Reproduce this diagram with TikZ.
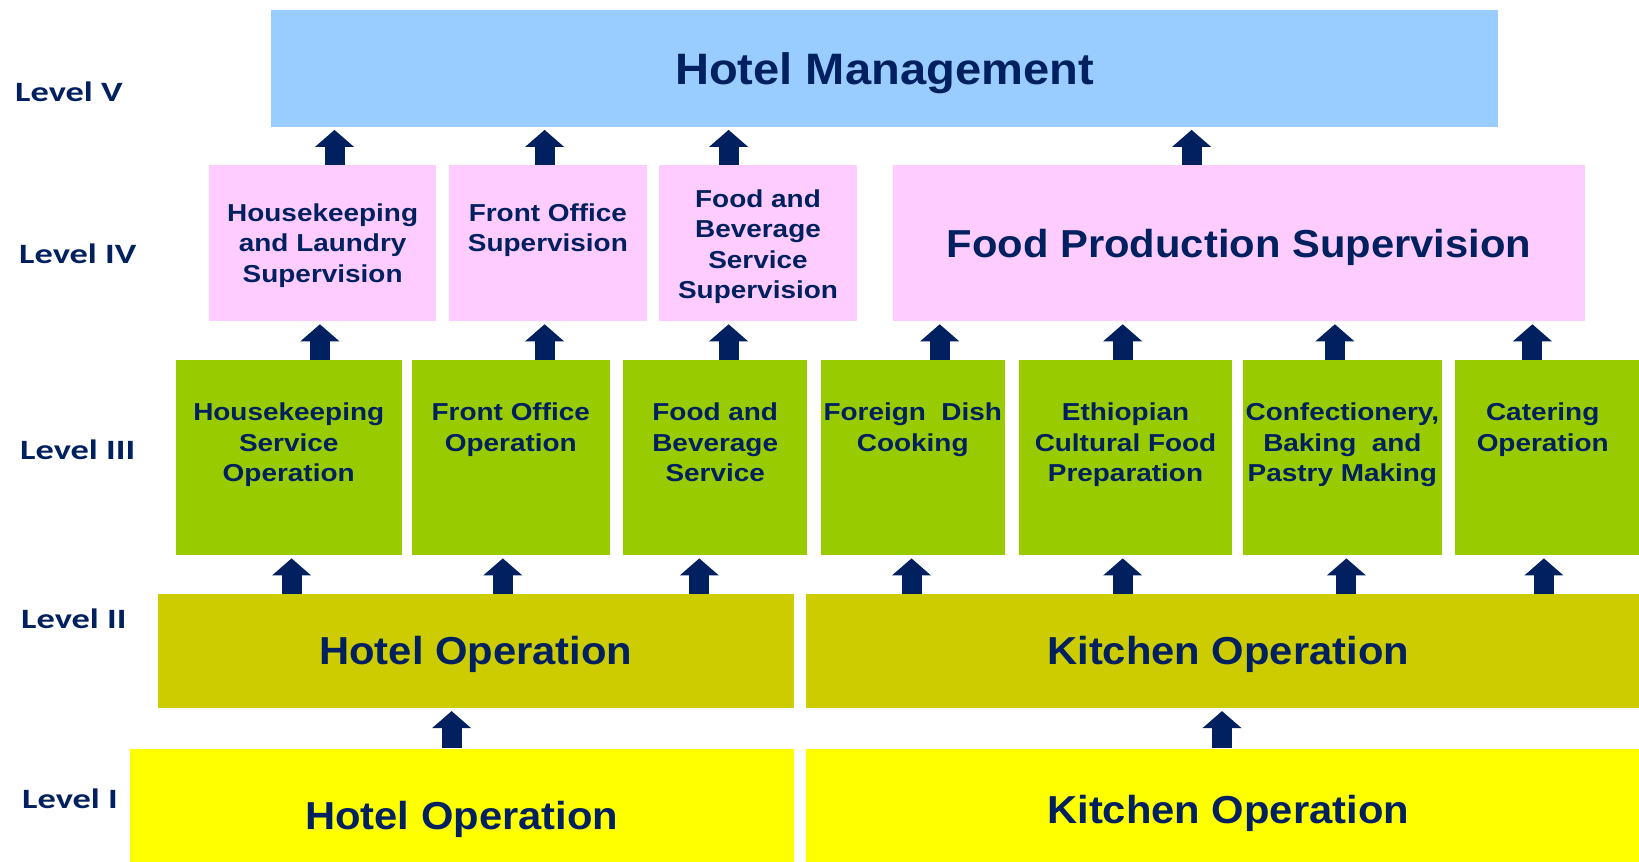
\documentclass[tikz,border=0pt]{standalone}
\usepackage{fontspec}
\setmainfont{Liberation Sans}
\newfontfamily\bigboxfont{Liberation Sans}[FakeStretch=1.07]
\newfontfamily\cellfont{Liberation Sans}[FakeStretch=1.14]
\newfontfamily\levelfont{Carlito}[FakeStretch=1.3]
\usetikzlibrary{arrows.meta}

\definecolor{navy}{RGB}{0,32,96}
\definecolor{mgmtblue}{RGB}{153,204,255}
\definecolor{suppink}{RGB}{255,204,255}
\definecolor{opgreen}{RGB}{153,204,0}
\definecolor{opolive}{RGB}{204,204,0}
\definecolor{baseyellow}{RGB}{255,255,0}

\tikzset{
  box/.style={draw=none, inner sep=0pt, anchor=north west, text=navy},
  bigtext/.style={text height=31.7pt, text depth=0pt,
    font=\bigboxfont\bfseries\fontsize{44}{50}\selectfont},
  midtext/.style={text height=28pt, text depth=0pt,
    font=\bigboxfont\bfseries\fontsize{39}{45}\selectfont},
  celltext/.style={text=navy, inner sep=0pt, align=center,
    font=\cellfont\bfseries\fontsize{24.5}{30.5}\selectfont},
  lvl/.style={anchor=west, inner sep=0pt, text=navy,
    font=\levelfont\bfseries\fontsize{28}{32}\selectfont},
  up/.style={draw=navy, line width=20pt, shorten >=3pt,
    -{Triangle[width=39pt,length=17pt,line width=0pt]}},
}

\begin{document}
\begin{tikzpicture}[x=1pt,y=-1pt]
\useasboundingbox (0,0) rectangle (1639,862);
\fill[white] (0,0) rectangle (1639,862);
\clip (0,0) rectangle (1639,862);

% Level V
\node[box, bigtext, fill=mgmtblue, minimum width=1227.2pt, minimum height=117.1pt]
  (hm) at (270.7,9.4) {Hotel Management};

% Level IV
\node[box, fill=suppink, minimum width=226.9pt, minimum height=155.7pt] (hl) at (209,165.2) {};
\node[box, fill=suppink, minimum width=198.6pt, minimum height=155.7pt] (fos) at (448.4,165.2) {};
\node[box, fill=suppink, minimum width=198.6pt, minimum height=155.7pt] (fbs) at (658.5,165.2) {};
\node[box, midtext, fill=suppink, minimum width=692pt, minimum height=155.7pt]
  (fps) at (892.7,165.2) {Food Production Supervision};

\node[celltext, anchor=north] (hlt) at ([yshift=-38pt]hl.north) {Housekeeping\\and Laundry\\Supervision};
\node[celltext, anchor=north] (fost) at ([yshift=-38pt]fos.north) {Front Office\\Supervision};
\node[celltext, anchor=north] (fbst) at ([yshift=-24pt]fbs.north) {Food and\\Beverage\\Service\\Supervision};

% Level III
\node[box, fill=opgreen, minimum width=225.8pt, minimum height=195.4pt] (hso) at (175.6,359.6) {};
\node[box, fill=opgreen, minimum width=197.6pt, minimum height=195.4pt] (foo) at (411.8,359.6) {};
\node[box, fill=opgreen, minimum width=184pt, minimum height=195.4pt] (fbv) at (623,359.6) {};
\node[box, fill=opgreen, minimum width=183.9pt, minimum height=195.4pt] (fdc) at (820.6,359.6) {};
\node[box, fill=opgreen, minimum width=212.2pt, minimum height=195.4pt] (ecf) at (1019.2,359.6) {};
\node[box, fill=opgreen, minimum width=198.6pt, minimum height=195.4pt] (cbp) at (1242.9,359.6) {};
\node[box, fill=opgreen, minimum width=195pt, minimum height=195.4pt] (cat) at (1455,359.6) {};

\node[celltext, anchor=north] (hsot) at ([yshift=-43pt]hso.north) {Housekeeping\\Service\\Operation};
\node[celltext, anchor=north] (foot) at ([yshift=-43pt]foo.north) {Front Office\\Operation};
\node[celltext, anchor=north] (fbvt) at ([yshift=-43pt]fbv.north) {Food and\\Beverage\\Service};
\node[celltext, anchor=north] (fdct) at ([yshift=-43pt]fdc.north) {Foreign\ \ Dish\\Cooking};
\node[celltext, anchor=north] (ecft) at ([yshift=-43pt]ecf.north) {Ethiopian\\Cultural Food\\Preparation};
\node[celltext, anchor=north] (cbpt) at ([yshift=-43pt]cbp.north) {Confectionery,\\Baking\ \ and\\Pastry Making};
\node[celltext, anchor=north] (catt) at ([xshift=-10pt,yshift=-43pt]cat.north) {Catering\\Operation};

% Level II
\node[box, midtext, fill=opolive, minimum width=635.6pt, minimum height=114pt]
  (ho2) at (157.8,593.7) {Hotel Operation};
\node[box, midtext, fill=opolive, minimum width=844pt, minimum height=114pt]
  (ko2) at (806,593.7) {Kitchen Operation};

% Level I
\node[box, midtext, fill=baseyellow, minimum width=663.8pt, minimum height=133.6pt]
  (ho1) at (129.6,748.4) {Hotel Operation};
\node[box, midtext, fill=baseyellow, minimum width=844pt, minimum height=121.6pt]
  (ko1) at (806,748.4) {Kitchen Operation};

% Level labels
\node[lvl] (l5) at (15,92) {Level V};
\node[lvl] (l4) at (19,254) {Level IV};
\node[lvl] (l3) at (20,449.5) {Level III};
\node[lvl] (l2) at (21,619) {Level II};
\node[lvl] (l1) at (22,798.6) {Level I};

% Arrow columns
\coordinate (x1) at (334.5,0);
\coordinate (x2) at (544.6,0);
\coordinate (x3) at (728.6,0);
\coordinate (x4) at (1191.6,0);
\coordinate (x5) at (319.9,0);
\coordinate (x6) at (939.7,0);
\coordinate (x7) at (1122.7,0);
\coordinate (x8) at (1334.9,0);
\coordinate (x9) at (1532.4,0);
\coordinate (x10) at (291.6,0);
\coordinate (x11) at (502.8,0);
\coordinate (x12) at (699.3,0);
\coordinate (x13) at (911.5,0);
\coordinate (x14) at (1346.4,0);
\coordinate (x15) at (1543.9,0);
\coordinate (x16) at (451.6,0);
\coordinate (x17) at (1222,0);

% Level IV -> V
\draw[up] (hl.north -| x1) -- (hm.south -| x1);
\draw[up] (fos.north -| x2) -- (hm.south -| x2);
\draw[up] (fbs.north -| x3) -- (hm.south -| x3);
\draw[up] (fps.north -| x4) -- (hm.south -| x4);

% Level III -> IV
\draw[up] (hso.north -| x5) -- (hl.south -| x5);
\draw[up] (foo.north -| x2) -- (fos.south -| x2);
\draw[up] (fbv.north -| x3) -- (fbs.south -| x3);
\draw[up] (fdc.north -| x6) -- (fps.south -| x6);
\draw[up] (ecf.north -| x7) -- (fps.south -| x7);
\draw[up] (cbp.north -| x8) -- (fps.south -| x8);
\draw[up] (cat.north -| x9) -- (fps.south -| x9);

% Level II -> III
\draw[up] (ho2.north -| x10) -- (hso.south -| x10);
\draw[up] (ho2.north -| x11) -- (foo.south -| x11);
\draw[up] (ho2.north -| x12) -- (fbv.south -| x12);
\draw[up] (ko2.north -| x13) -- (fdc.south -| x13);
\draw[up] (ko2.north -| x7) -- (ecf.south -| x7);
\draw[up] (ko2.north -| x14) -- (cbp.south -| x14);
\draw[up] (ko2.north -| x15) -- (cat.south -| x15);

% Level I -> II
\draw[up] (ho1.north -| x16) -- (ho2.south -| x16);
\draw[up] (ko1.north -| x17) -- (ko2.south -| x17);
\end{tikzpicture}
\end{document}
